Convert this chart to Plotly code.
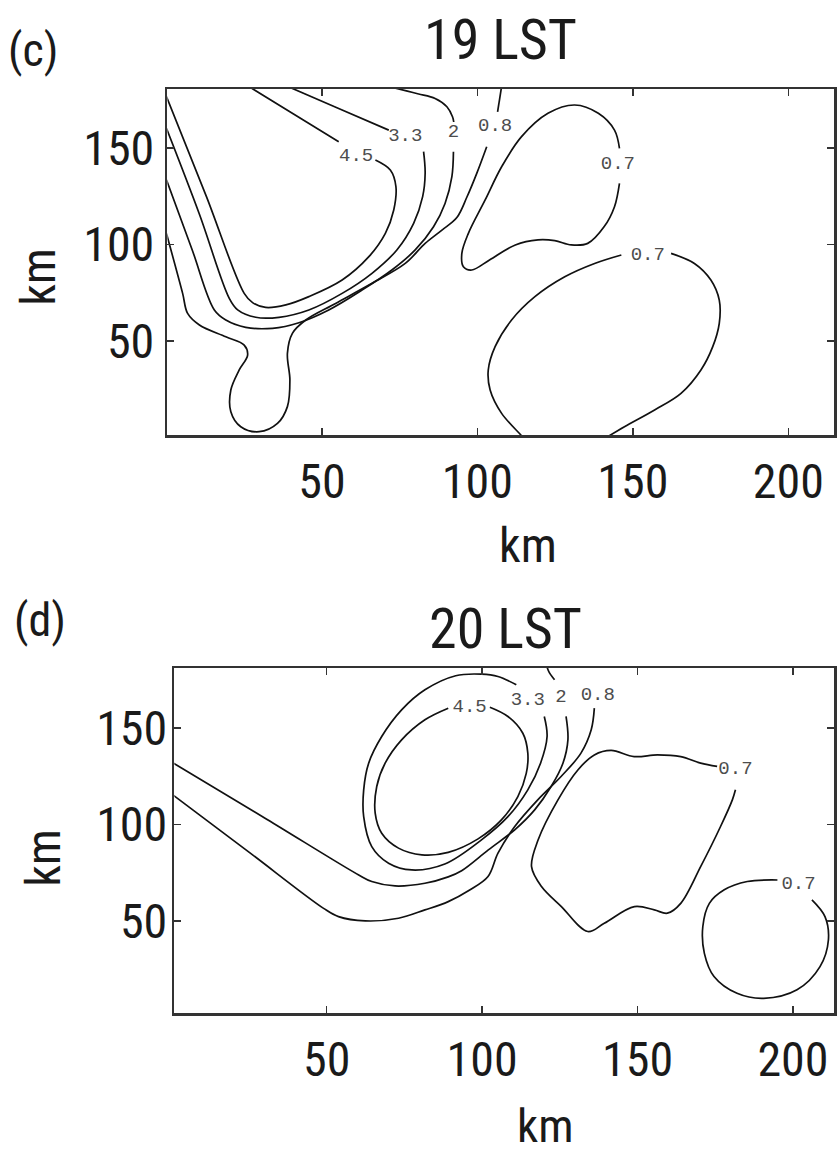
import plotly.graph_objects as go

# ---------------- data (km) ----------------
# Panel (c) 19 LST : contour lines (None = gap where the label sits)
C19_L45_X = [26.4, 41.0, 55.4, None, 67.2, 72.0, 73.8, 73.1, 70.4, 65.1, 56.5, 45.8, 38.4, 31.9, 27.7, 25.0, 12.8, 0.0]
C19_L45_Y = [182.0, 167.5, 153.3, None, 143.8, 138.6, 130.0, 117.9, 105.8, 93.7, 81.6, 73.0, 68.7, 67.4, 69.9, 74.7, 125.1, 176.7]

C19_L33_X = [38.9, 55.2, 71.5, None, 82.7, 83.2, 82.4, 79.5, 74.1, 66.1, 56.5, 45.8, 36.2, 28.7, 22.9, 20.2, 10.6, 0.0]
C19_L33_Y = [182.0, 170.6, 159.3, None, 148.1, 136.9, 124.8, 111.0, 97.2, 85.1, 74.7, 66.1, 62.3, 62.3, 66.1, 72.1, 115.7, 160.2]

C19_L2_X = [72.5, 77.5, 81.1, 86.4, 90.2, 92.0, 92.4, None, 92.3, 91.8, 89.6, 85.9, 80.0, 72.5, 62.9, 52.2, 42.6, 34.1, 25.5, 19.1, 15.4, 8.2, 0.0]
C19_L2_Y = [181.5, 179.5, 178.0, 175.7, 171.4, 166.2, 163.5, None, 148.1, 135.2, 121.3, 109.2, 97.2, 86.8, 76.4, 66.1, 59.5, 56.6, 57.1, 60.9, 66.1, 97.6, 133.5]

C19_L08_X = [107.8, 106.5, None, 103.0, 99.8, 96.6, 93.4, 88.6, 83.2, 76.8, 66.1, 54.4, 44.8, 40.5, 38.9, 39.7, 38.9, 35.7, 29.8, 23.9, 20.7, 20.7, 23.4, 26.1, 25.0, 19.1, 10.6, 6.8, 5.2, 0.0]
C19_L08_Y = [182.0, 168.8, None, 150.7, 136.9, 124.5, 114.0, 107.5, 100.6, 90.2, 79.9, 69.5, 60.9, 54.0, 43.6, 29.8, 16.0, 7.3, 3.0, 5.6, 13.4, 24.6, 35.0, 42.7, 47.9, 52.2, 58.3, 64.3, 74.7, 105.7]

C19_L07A_X = [145.7, 144.1, 140.8, 135.5, 130.2, 124.9, 119.5, 112.2, 103.9, 98.2, 95.5, 95.0, 97.1, 102.5, 107.8, 114.2, 122.7, 131.3, 138.9, 144.1, 145.7]
C19_L07A_Y = [131.7, 119.6, 109.3, 100.6, 99.8, 102.0, 102.4, 99.8, 92.0, 86.8, 88.5, 95.4, 105.8, 123.1, 140.3, 155.9, 168.0, 172.3, 168.0, 159.3, 149.8]

C19_L07B_X = [114.7, 113.7, 107.8, 104.1, 103.5, 105.7, 111.0, 118.5, 128.1, 137.7, 146.3, None, 162.3, 169.8, 175.1, 177.8, 177.8, 175.7, 171.9, 165.5, 157.0, 147.3, 141.5]
C19_L07B_Y = [0.0, 1.8, 12.5, 24.6, 35.0, 47.1, 60.9, 73.0, 83.3, 90.2, 94.6, None, 95.4, 90.2, 81.6, 71.2, 59.2, 47.1, 35.0, 22.9, 14.3, 5.6, 0.0]

C19_LABEL_X = [61.0, 76.8, 92.3, 105.7, 145.2, 154.8]
C19_LABEL_Y = [145.8, 155.9, 158.4, 161.4, 141.7, 94.7]
C19_LABEL_T = ["4.5", "3.3", "2", "0.8", "0.7", "0.7"]

# Panel (d) 20 LST
C20_L45_X = [102.5, 108.3, 113.1, 114.7, 114.2, 111.5, 106.2, 98.7, 89.1, 80.6, 73.1, 67.7, 65.6, 66.1, 68.8, 74.1, 81.6, 89.1]
C20_L45_Y = [160.7, 155.9, 147.2, 136.9, 126.4, 114.4, 102.3, 92.5, 85.5, 84.2, 87.7, 95.4, 105.8, 119.6, 131.7, 143.8, 154.2, 160.2]

C20_L33_X = [111.0, 105.1, 99.8, 91.5, 81.6, 74.1, 67.7, 63.5, 61.9, 61.9, 64.5, 69.9, 77.4, 88.0, 99.8, 108.3, 114.7, 118.8, 120.9, 120.0]
C20_L33_Y = [172.3, 176.6, 177.8, 177.0, 169.7, 159.3, 145.5, 131.7, 117.9, 104.0, 88.5, 79.9, 76.4, 79.5, 92.0, 104.0, 117.9, 131.7, 145.5, 155.9]

C20_L2_X = [120.8, 121.5, 123.3, None, 127.0, 127.6, 126.0, 122.2, 116.9, 110.5, 102.0, 93.4, 89.1, 81.6, 72.0, 64.5, 60.3, 30.7, 0.0]
C20_L2_Y = [182.0, 179.0, 174.9, None, 155.9, 143.8, 131.7, 119.6, 107.5, 97.2, 86.8, 76.0, 72.8, 69.5, 68.1, 70.4, 73.8, 102.7, 132.4]

C20_L08_X = [136.1, 135.1, 131.8, 125.4, 117.9, 110.5, 105.1, 101.9, 96.0, 89.1, 81.6, 73.1, 62.4, 53.8, 49.0, 25.1, 0.0]
C20_L08_Y = [160.2, 149.0, 136.9, 124.8, 112.7, 98.9, 85.1, 73.0, 66.0, 60.0, 55.7, 51.4, 50.0, 52.2, 56.5, 85.5, 115.9]

C20_L07A_X = [175.6, 170.3, 163.9, 156.4, 148.9, 141.5, 136.1, 130.8, 124.4, 118.0, 115.9, 119.1, 125.5, 134.0, 139.3, 149.0, 155.4, 159.6, 163.9, 170.3, 176.7, 180.5, 181.5]
C20_L07A_Y = [130.0, 131.7, 135.1, 136.0, 135.1, 138.3, 136.0, 128.2, 112.7, 91.9, 78.1, 67.8, 57.4, 44.5, 48.8, 57.4, 55.7, 54.0, 59.1, 78.1, 98.9, 112.7, 117.9]

C20_L07B_X = [195.0, 185.3, 177.9, 173.1, 171.0, 171.5, 174.6, 182.0, 190.6, 201.3, 208.7, 211.4, 210.3, 206.1]
C20_L07B_Y = [71.2, 70.4, 66.1, 59.1, 47.1, 33.2, 21.2, 12.5, 9.9, 14.3, 26.3, 40.1, 52.2, 60.9]

C20_LABEL_X = [96.0, 114.7, 125.4, 137.2, 181.5, 201.8]
C20_LABEL_Y = [160.7, 164.1, 165.9, 167.1, 128.8, 69.2]
C20_LABEL_T = ["4.5", "3.3", "2", "0.8", "0.7", "0.7"]

X_TICKS = [50, 100, 150, 200]
Y_TICKS = [50, 100, 150]
TITLES = ["19 LST", "20 LST"]
PANEL_TAGS = ["(c)", "(d)"]
AXIS_LABEL = "km"

# ---------------- figure ----------------
W, H = 837, 1155
FONT = "Roboto Condensed, Liberation Sans Narrow, DejaVu Sans Condensed, sans-serif"
LINE_C = "#111111"
FRAME_C = "#333333"

fig = go.Figure()

panel19 = [(C19_L45_X, C19_L45_Y), (C19_L33_X, C19_L33_Y), (C19_L2_X, C19_L2_Y),
           (C19_L08_X, C19_L08_Y), (C19_L07A_X, C19_L07A_Y), (C19_L07B_X, C19_L07B_Y)]
panel20 = [(C20_L45_X, C20_L45_Y), (C20_L33_X, C20_L33_Y), (C20_L2_X, C20_L2_Y),
           (C20_L08_X, C20_L08_Y), (C20_L07A_X, C20_L07A_Y), (C20_L07B_X, C20_L07B_Y)]

for lines, xa, ya in [(panel19, "x", "y"), (panel20, "x2", "y2")]:
    for xs, ys in lines:
        fig.add_trace(go.Scatter(x=xs, y=ys, mode="lines", xaxis=xa, yaxis=ya,
                                 line=dict(color=LINE_C, width=1.7, shape="spline", smoothing=1.0),
                                 connectgaps=False, hoverinfo="skip", showlegend=False))

for lx, ly, lt, xa, ya in [(C19_LABEL_X, C19_LABEL_Y, C19_LABEL_T, "x", "y"),
                           (C20_LABEL_X, C20_LABEL_Y, C20_LABEL_T, "x2", "y2")]:
    fig.add_trace(go.Scatter(x=lx, y=ly, text=lt, mode="text", xaxis=xa, yaxis=ya,
                             textposition="middle center",
                             textfont=dict(family="Liberation Mono, DejaVu Sans Mono, monospace",
                                           size=19, color="#4d4d4d"),
                             hoverinfo="skip", showlegend=False))

def xaxis_style(domain, rng, standoff):
    return dict(domain=domain, range=rng, tickvals=X_TICKS, ticks="inside", ticklen=7,
                tickwidth=1.5, tickcolor=FRAME_C, showline=True, linecolor=FRAME_C,
                linewidth=2.5, mirror="ticks", showgrid=False, zeroline=False,
                tickfont=dict(family=FONT, size=48, color="#1a1a1a"),
                ticklabelstandoff=standoff, fixedrange=True)

def yaxis_style(domain, rng, anchor, standoff):
    return dict(domain=domain, range=rng, tickvals=Y_TICKS, ticks="inside", ticklen=7,
                tickwidth=1.5, tickcolor=FRAME_C, showline=True, linecolor=FRAME_C,
                linewidth=2.5, mirror="ticks", showgrid=False, zeroline=False,
                tickfont=dict(family=FONT, size=48, color="#1a1a1a"),
                ticklabelstandoff=standoff, anchor=anchor, fixedrange=True)

fig.update_layout(
    width=W, height=H, margin=dict(l=0, r=0, t=0, b=0),
    paper_bgcolor="white", plot_bgcolor="white", showlegend=False,
    xaxis=dict(xaxis_style([168 / W, 1.0], [0.3, 214.7], 3), anchor="y"),
    yaxis=yaxis_style([1 - 435 / H, 1 - 89 / H], [1.3, 180.6], "x", 1),
    xaxis2=dict(xaxis_style([175 / W, 1.0], [1.0, 213.2], 3), anchor="y2"),
    yaxis2=yaxis_style([1 - 1013 / H, 1 - 668 / H], [2.3, 181.0], "x2", -5),
)

ann = []
def add_text(text, px, py, size, angle=0, yanchor="middle"):
    ann.append(dict(text=text, x=px / W, y=1 - py / H, xref="paper", yref="paper",
                    xanchor="center", yanchor=yanchor, showarrow=False, textangle=angle,
                    font=dict(family=FONT, size=size, color="#1a1a1a")))

add_text(TITLES[0], 502.5, 40, 56)
add_text(TITLES[1], 507.5, 629, 56)
add_text(PANEL_TAGS[0], 33, 50, 46)
add_text(PANEL_TAGS[1], 40, 620, 46)
add_text(AXIS_LABEL, 530, 545, 48)
add_text(AXIS_LABEL, 547, 1155, 47, yanchor="bottom")
add_text(AXIS_LABEL, 38, 277, 48, -90)
add_text(AXIS_LABEL, 43, 858, 48, -90)
fig.update_layout(annotations=ann)

fig.write_html("out.html",
               config={"displayModeBar": False, "staticPlot": True},
               post_script="document.body.style.margin='0';document.body.style.padding='0';"
                           "document.documentElement.style.overflow='hidden';")
